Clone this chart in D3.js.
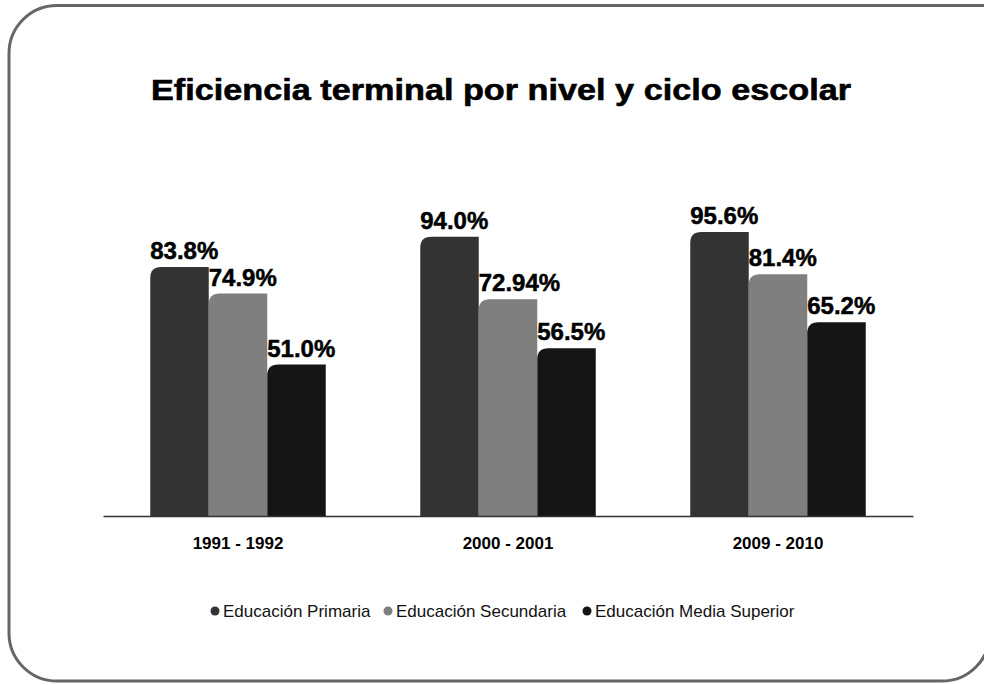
<!DOCTYPE html>
<html>
<head>
<meta charset="utf-8">
<script src="https://cdn.jsdelivr.net/npm/d3@7"></script>
<style>
  body { margin: 0; background: #ffffff; }
  text { font-family: "Liberation Sans", Arial, sans-serif; }
</style>
</head>
<body>
<div id="container"></div>
<script>
let width = 984;
let height = 685;

let ciclos = ["1991 - 1992", "2000 - 2001", "2009 - 2010"];
let niveles = ["Educación Primaria", "Educación Secundaria", "Educación Media Superior"];
let primaria = [83.8, 94.0, 95.6];
let secundaria = [74.9, 72.94, 81.4];
let mediaSuperior = [51.0, 56.5, 65.2];
let etiquetas = [["83.8%", "94.0%", "95.6%"], ["74.9%", "72.94%", "81.4%"], ["51.0%", "56.5%", "65.2%"]];
let colors = ["#333333", "#7f7f7f", "#151515"];

let series = [primaria, secundaria, mediaSuperior];

let svg = d3.select("#container")
    .append("svg")
    .attr("width", width)
    .attr("height", height);

// frame: right edge runs just past the window, top-right corner hidden
let fl = 9, ft = 5.5, fr = 990, fb = 681, rad = 48;
svg.append("path")
    .attr("d", "M" + (fl + rad) + "," + ft +
        "H" + (fr + 20) + "V" + (fb - rad) +
        "M" + fr + "," + (fb - rad) +
        "A" + rad + "," + rad + " 0 0 1 " + (fr - rad) + "," + fb +
        "H" + (fl + rad) +
        "A" + rad + "," + rad + " 0 0 1 " + fl + "," + (fb - rad) +
        "V" + (ft + rad) +
        "A" + rad + "," + rad + " 0 0 1 " + (fl + rad) + "," + ft)
    .attr("fill", "none")
    .attr("stroke", "#666666")
    .attr("stroke-width", 3);

svg.append("text")
    .attr("x", 501)
    .attr("y", 100)
    .attr("text-anchor", "middle")
    .attr("font-size", 30)
    .attr("font-weight", "bold")
    .attr("textLength", 700)
    .attr("lengthAdjust", "spacingAndGlyphs")
    .attr("fill", "#000")
    .style("stroke", "#000")
    .style("stroke-width", 0.6)
    .text("Eficiencia terminal por nivel y ciclo escolar");

let baseY = 516;

let x0 = d3.scaleBand()
    .domain(ciclos)
    .range([103, 913])
    .paddingInner(0.35)
    .paddingOuter(0.175);

let x1 = d3.scaleBand()
    .domain(d3.range(3))
    .range([0, x0.bandwidth()]);

let y = d3.scaleLinear()
    .domain([0, 100])
    .range([baseY, baseY - 297]);

// bar shape with only the top-left corner rounded
function barPath(x, yTop, w, h) {
    let r = Math.min(11, h);
    return "M" + x + "," + (yTop + h) +
        "V" + (yTop + r) +
        "Q" + x + "," + yTop + " " + (x + r) + "," + yTop +
        "H" + (x + w) +
        "V" + (yTop + h) + "Z";
}

let groups = svg.selectAll(".grupo")
    .data(ciclos)
    .enter()
    .append("g")
    .attr("class", "grupo")
    .attr("transform", d => "translate(" + x0(d) + ",0)");

groups.each(function (c, gi) {
    let g = d3.select(this);
    series.forEach((s, si) => {
        let bx = x1(si);
        let bw = x1.bandwidth();
        g.append("path")
            .attr("d", barPath(bx, y(s[gi]), bw, baseY - y(s[gi])))
            .attr("fill", colors[si]);
        g.append("text")
            .attr("x", bx)
            .attr("y", y(s[gi]) - 8)
            .attr("font-size", 24)
            .attr("font-weight", "bold")
            .attr("fill", "#000")
            .style("stroke", "#000")
            .style("stroke-width", 0.5)
            .text(etiquetas[si][gi]);
    });
});

// axis
let xAxis = d3.axisBottom(x0).tickSize(0).tickPadding(21);
let ax = svg.append("g")
    .attr("transform", "translate(0," + baseY + ")")
    .call(xAxis);
ax.select(".domain").attr("stroke", "#333333").attr("stroke-width", 1.5);
ax.selectAll(".tick text")
    .attr("font-size", 17)
    .attr("font-weight", "bold")
    .attr("fill", "#000")
    .attr("font-family", "Liberation Sans, Arial, sans-serif");

// legend
let legendX = [215, 388, 587];
let legend = svg.selectAll(".leyenda")
    .data(niveles)
    .enter()
    .append("g")
    .attr("class", "leyenda")
    .attr("transform", (d, i) => "translate(" + legendX[i] + ",611)");

legend.append("circle")
    .attr("r", 4.5)
    .attr("fill", (d, i) => colors[i]);

legend.append("text")
    .attr("x", 8)
    .attr("y", 6)
    .attr("font-size", 17)
    .attr("fill", "#111")
    .text(d => d);
</script>
</body>
</html>
